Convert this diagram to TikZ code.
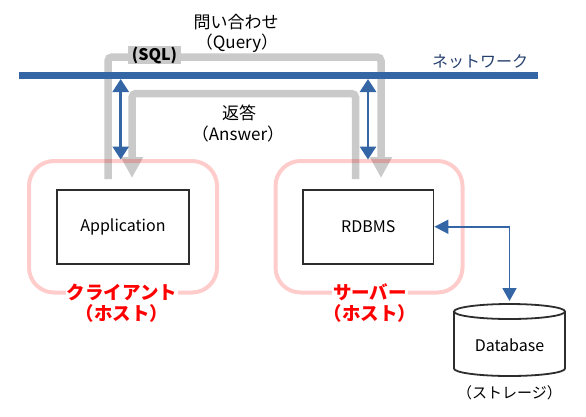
\documentclass[tikz,border=0pt]{standalone}
\usepackage{fontspec}
\setmainfont{Noto Sans CJK JP}
\usetikzlibrary{arrows.meta}
\definecolor{netblue}{RGB}{52,101,164}
\definecolor{netText}{RGB}{38,64,110}
\definecolor{pipegray}{RGB}{202,202,202}
\definecolor{boxline}{RGB}{45,45,45}
\tikzset{
  pipe/.style={draw=pipegray, line width=7.5pt, rounded corners=4pt},
  pipetip/.style={-{Triangle[width=21pt,length=21pt]}},
  hostbox/.style={draw=red, draw opacity=0.2, line width=4pt, rounded corners=25pt, inner sep=0pt},
  procbox/.style={draw=boxline, line width=1.8pt, fill=white, inner sep=0pt, font=\fontsize{16}{18}\selectfont},
  bluearrow/.style={draw=netblue, line width=2.8pt, {Triangle[width=16pt,length=13pt]}-{Triangle[width=16pt,length=13pt]}},
  dbarrow/.style={draw=netblue, line width=1.8pt, {Triangle[width=14pt,length=14pt]}-{Triangle[width=14pt,length=13pt]}},
  hostlabel/.style={text=red, fill=white, inner sep=1pt, font=\fontsize{18.5}{20}\selectfont\bfseries},
  plain/.style={inner sep=0pt, font=\fontsize{17}{19}\selectfont},
}
\begin{document}
\begin{tikzpicture}[x=1pt,y=-1pt]
\useasboundingbox (0,0) rectangle (586,416);

% query and answer pipes
\coordinate (qstart) at (108,179);
\coordinate (qtl) at (108,57);
\coordinate (qtr) at (381,57);
\coordinate (qend) at (381,178);
\coordinate (astart) at (355.5,179);
\coordinate (atr) at (355.5,93.5);
\coordinate (atl) at (132,93.5);
\coordinate (aend) at (132,178);
\draw[pipe, pipetip] (qstart) -- (qtl) -- (qtr) -- (qend);
\draw[pipe, pipetip] (astart) -- (atr) -- (atl) -- (aend);

% host boxes
\node[hostbox, minimum width=188pt, minimum height=131.5pt] (client) at (123,226.75) {};
\node[hostbox, minimum width=187pt, minimum height=131.5pt] (server) at (369,226.75) {};

% process boxes
\node[procbox, minimum width=132pt, minimum height=74pt] (app) at (123,226.75) {Application};
\node[procbox, minimum width=130.5pt, minimum height=74pt] (rdbms) at (368.25,226.75) {RDBMS};

% network
\node[fill=netblue, inner sep=0pt, minimum width=519pt, minimum height=7pt] (net) at (278.5,75.5) {};
\node[plain, text=netText, font=\fontsize{16}{18}\selectfont] (nettext) at (480,62) {ネットワーク};

% blue arrows
\coordinate (la1) at (120.7,79);
\coordinate (la2) at (120.7,159.5);
\coordinate (ra1) at (368,79);
\coordinate (ra2) at (368,159.5);
\draw[bluearrow] (la1) -- (la2);
\draw[bluearrow] (ra1) -- (ra2);

% labels
\node[inner sep=0pt, fill=pipegray, minimum width=53pt, minimum height=18pt, font=\fontsize{16}{18}\selectfont\bfseries] (sql) at (154.5,55) {(SQL)};
\node[plain] (q1) at (236,22) {問い合わせ};
\node[plain] (q2) at (237,43) {（Query）};
\node[plain] (a1) at (239,113) {返答};
\node[plain] (a2) at (238,134) {（Answer）};

\node[hostlabel] (cl1) at (122,292) {クライアント};
\node[hostlabel, fill=none] (cl2) at (122,313) {（ホスト）};
\node[hostlabel] (sv1) at (370,292) {サーバー};
\node[hostlabel, fill=none] (sv2) at (370,313) {（ホスト）};

% database cylinder
\draw[draw=boxline, line width=1.8pt, fill=white] (454,311.5) -- (454,368.5)
  arc[start angle=180, end angle=0, x radius=55.5, y radius=7.5] -- (565,311.5);
\draw[draw=boxline, line width=1.8pt] (509.5,311.5) ellipse[x radius=55.5, y radius=7.5];
\coordinate (dbtop) at (509.5,301);
\node[plain, font=\fontsize{16}{18}\selectfont] (db) at (509.5,345) {Database};
\node[plain, font=\fontsize{15}{17}\selectfont] (storage) at (509.5,393) {（ストレージ）};

\draw[dbarrow] (rdbms.east) -| (dbtop);
\end{tikzpicture}
\end{document}
